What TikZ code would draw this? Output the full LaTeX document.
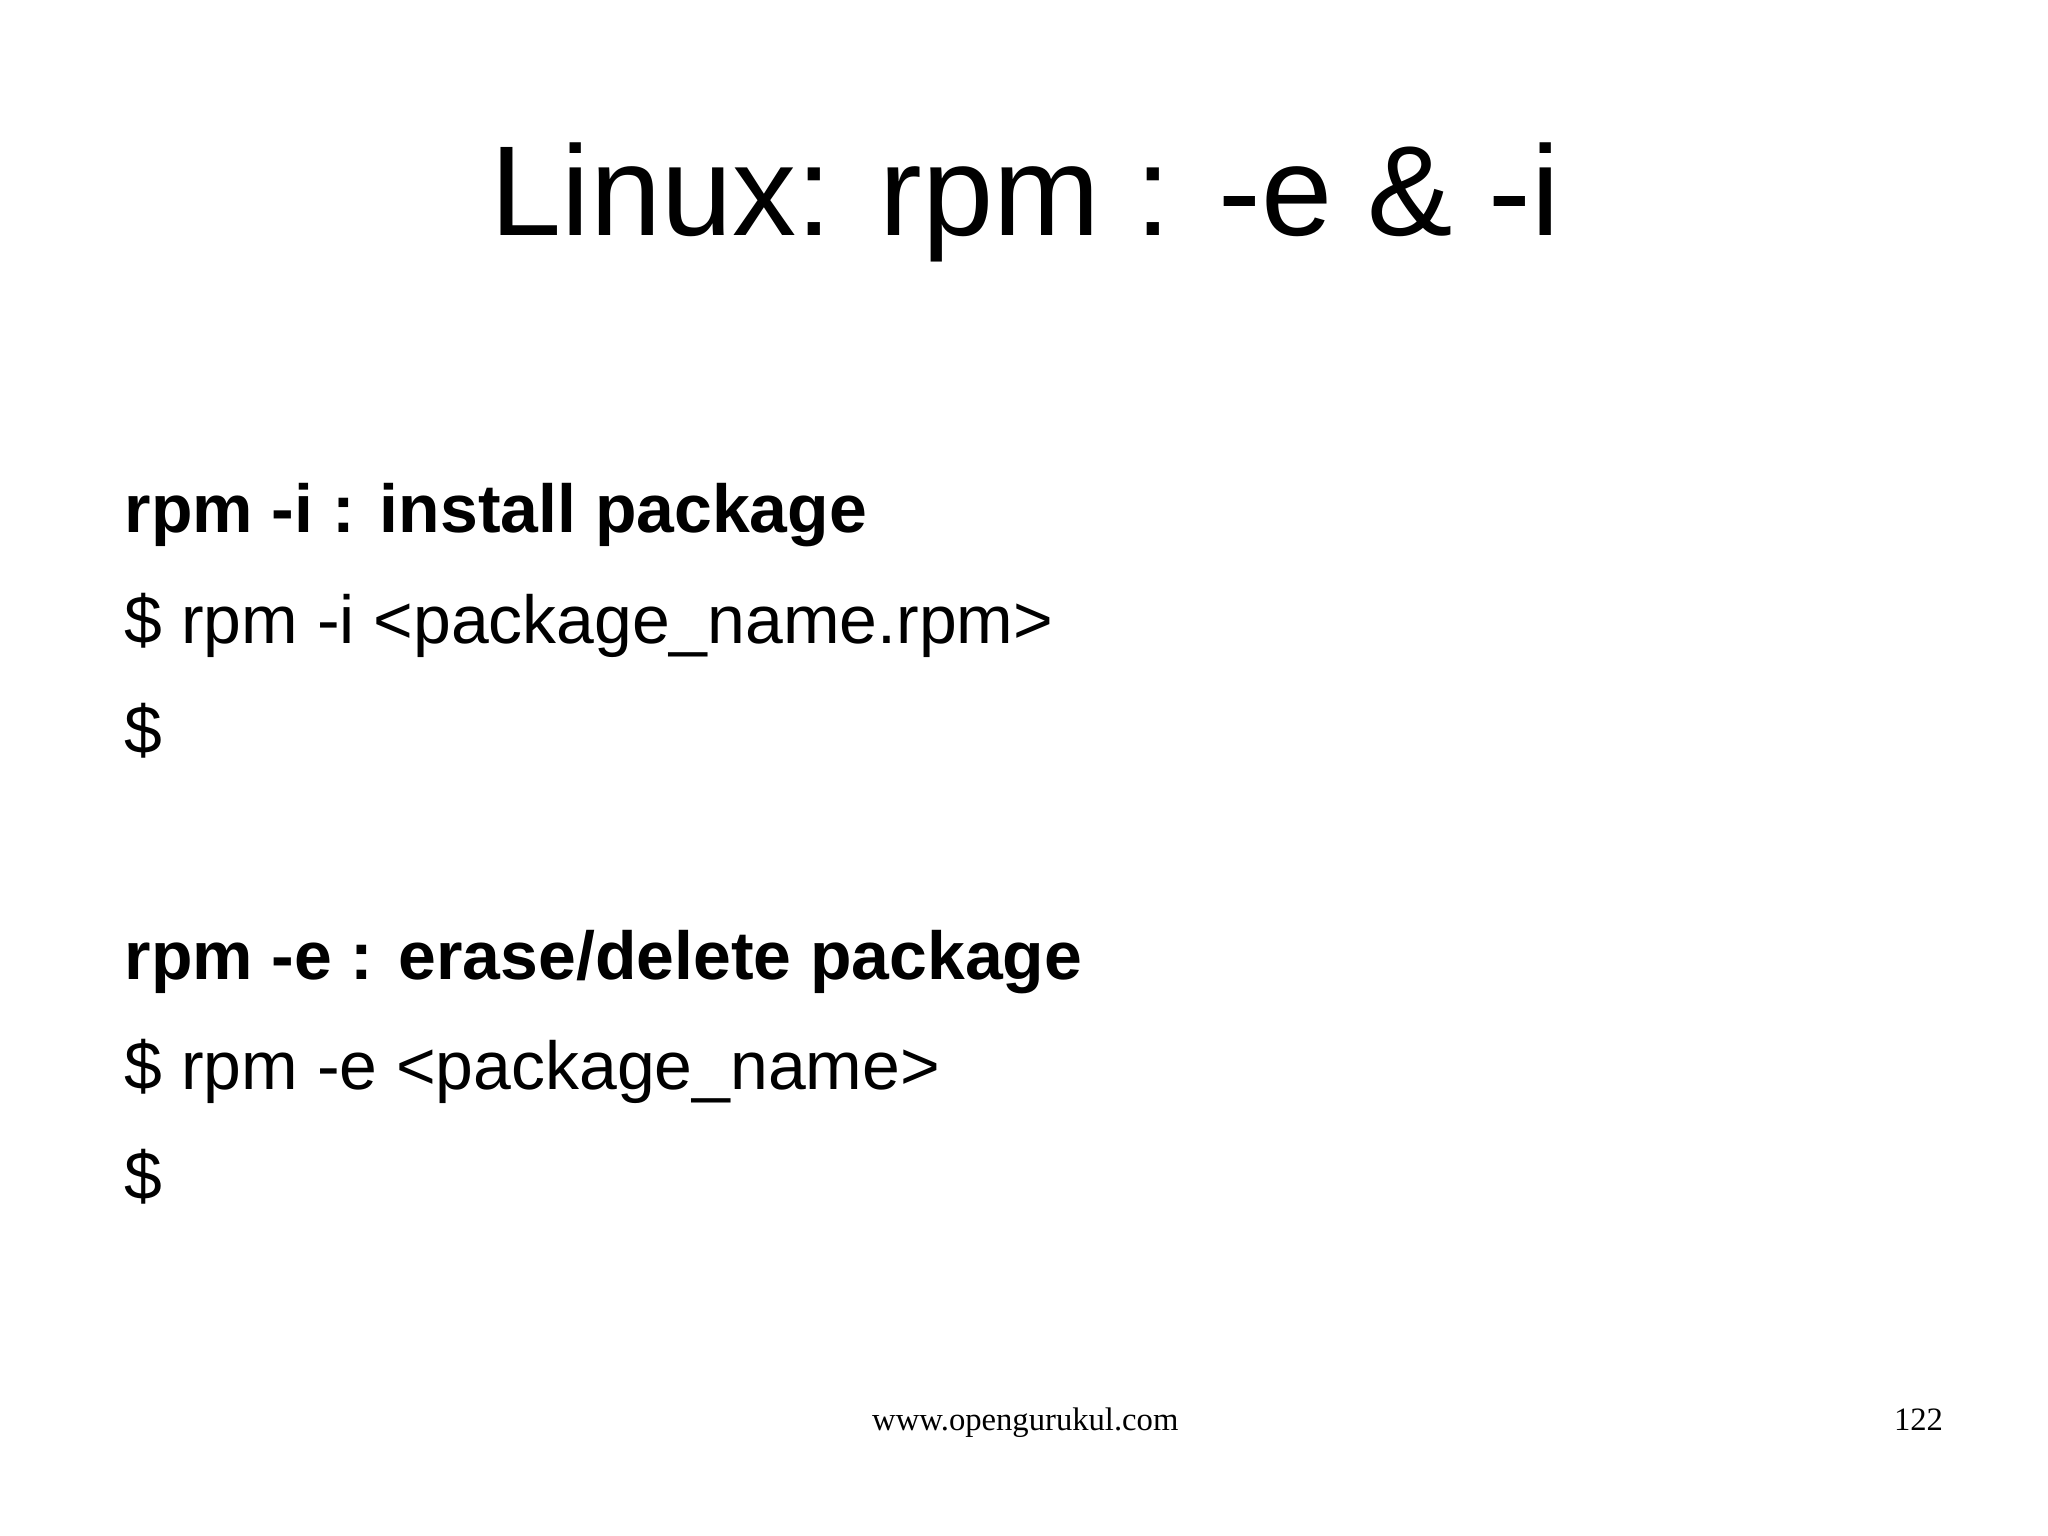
\documentclass[tikz,border=0pt]{standalone}
\usepackage{fontspec}
\setmainfont{Liberation Sans}
\newfontfamily\serifft{Liberation Serif}
\begin{document}
\begin{tikzpicture}[x=0.5pt,y=-0.5pt,
  body/.style={anchor=base west,inner sep=0pt,font=\fontsize{26}{30}\selectfont},
  foot/.style={inner sep=0pt,font=\serifft\fontsize{12.5}{14}\selectfont}]
\useasboundingbox[fill=white] (0,0) rectangle (1568,1176);
\node[anchor=base,inner sep=0pt,font=\fontsize{49}{56}\selectfont] (title) at (785,180) {Linux: rpm : -e \& -i};
\node[body,font=\bfseries\fontsize{26}{30}\selectfont] (h1) at (95,408) {rpm -i : install package};
\node[body] (l1) at (95,493) {\$ rpm -i <package\_name.rpm>};
\node[body] (l2) at (95,577) {\$};
\node[body,font=\bfseries\fontsize{26}{30}\selectfont] (h2) at (95,750) {rpm -e : erase/delete package};
\node[body] (l3) at (95,834) {\$ rpm -e <package\_name>};
\node[body] (l4) at (95,918) {\$};
\node[foot,anchor=base] (url) at (785,1095) {www.opengurukul.com};
\node[foot,anchor=base east] (pg) at (1488,1095) {122};
\end{tikzpicture}
\end{document}
